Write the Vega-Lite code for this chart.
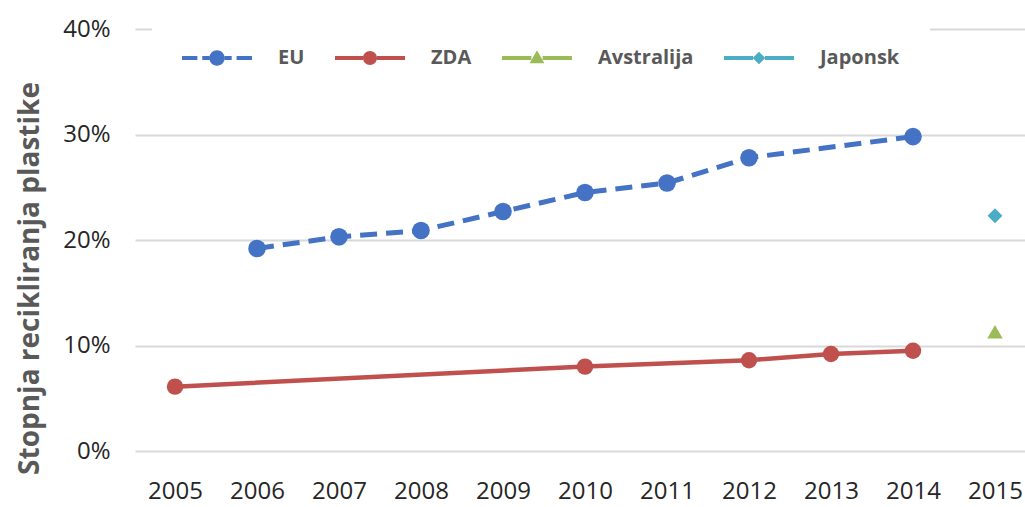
{
  "$schema": "https://vega.github.io/schema/vega-lite/v6.json",
  "width": 900,
  "height": 422,
  "autosize": {"type": "none"},
  "padding": {"left": 135, "top": 29, "right": 0, "bottom": 56},
  "background": "white",
  "config": {
    "font": "Open Sans",
    "view": {"stroke": null}
  },
  "data": {
    "values": [
      {"year": "2005", "series": "ZDA", "value": 6.1},
      {"year": "2006", "series": "EU", "value": 19.2},
      {"year": "2007", "series": "EU", "value": 20.3},
      {"year": "2008", "series": "EU", "value": 20.9},
      {"year": "2009", "series": "EU", "value": 22.7},
      {"year": "2010", "series": "EU", "value": 24.5},
      {"year": "2011", "series": "EU", "value": 25.4},
      {"year": "2012", "series": "EU", "value": 27.8},
      {"year": "2014", "series": "EU", "value": 29.8},
      {"year": "2010", "series": "ZDA", "value": 8.0},
      {"year": "2012", "series": "ZDA", "value": 8.6},
      {"year": "2013", "series": "ZDA", "value": 9.2},
      {"year": "2014", "series": "ZDA", "value": 9.5},
      {"year": "2015", "series": "Avstralija", "value": 11.3},
      {"year": "2015", "series": "Japonsk", "value": 22.3}
    ]
  },
  "encoding": {
    "x": {
      "field": "year",
      "type": "ordinal",
      "sort": ["2005","2006","2007","2008","2009","2010","2011","2012","2013","2014","2015"],
      "scale": {"domain": ["2005","2006","2007","2008","2009","2010","2011","2012","2013","2014","2015"], "type": "point", "padding": 0.488},
      "axis": {
        "title": null,
        "labelAngle": 0,
        "labelFontSize": 24,
        "labelColor": "#262626",
        "labelPadding": 28,
        "domain": false,
        "ticks": false,
        "grid": false
      }
    },
    "y": {
      "field": "value",
      "type": "quantitative",
      "scale": {"domain": [0, 40], "nice": false},
      "axis": {
        "title": "Stopnja recikliranja plastike",
        "titleFontSize": 28,
        "titleFontWeight": "bold",
        "titleColor": "#595959",
        "titleX": -105,
        "titleY": 249,
        "titleAngle": -90,
        "titleAlign": "center",
        "titleBaseline": "middle",
        "values": [0, 10, 20, 30, 40],
        "labelExpr": "datum.value + '%'",
        "labelFontSize": 24,
        "labelColor": "#262626",
        "labelPadding": 25,
        "domain": false,
        "ticks": false,
        "grid": true,
        "gridColor": "#d9d9d9",
        "gridWidth": 2
      }
    }
  },
  "layer": [
    {
      "transform": [{"filter": "datum.series === 'EU'"}],
      "mark": {"type": "line", "color": "#4472C4", "strokeWidth": 5, "strokeDash": [17, 9]}
    },
    {
      "transform": [{"filter": "datum.series === 'ZDA'"}],
      "mark": {"type": "line", "color": "#C0504D", "strokeWidth": 4.5}
    },
    {
      "transform": [{"filter": "datum.series === 'EU'"}],
      "mark": {"type": "point", "filled": true, "opacity": 1, "shape": "circle", "size": 310, "color": "#4472C4"}
    },
    {
      "transform": [{"filter": "datum.series === 'ZDA'"}],
      "mark": {"type": "point", "filled": true, "opacity": 1, "shape": "circle", "size": 270, "color": "#C0504D"}
    },
    {
      "transform": [{"filter": "datum.series === 'Avstralija'"}],
      "mark": {"type": "point", "filled": true, "opacity": 1, "shape": "triangle-up", "size": 240, "color": "#9BBB59"}
    },
    {
      "transform": [{"filter": "datum.series === 'Japonsk'"}],
      "mark": {"type": "point", "filled": true, "opacity": 1, "shape": "diamond", "size": 220, "color": "#4BACC6"}
    },
    {
      "mark": {"type": "point", "filled": true, "opacity": 0},
      "encoding": {
        "color": {
          "field": "series",
          "type": "nominal",
          "scale": {"domain": ["EU", "ZDA", "Avstralija", "Japonsk"], "range": ["#4472C4", "#C0504D", "#9BBB59", "#4BACC6"]},
          "legend": {
            "title": null,
            "orient": "none",
            "direction": "horizontal",
            "columns": 4,
            "legendX": 17,
            "legendY": -36,
            "padding": 30,
            "fillColor": "white",
            "symbolSize": 4900,
            "symbolOpacity": 1,
            "symbolStrokeWidth": 0,
            "labelFontSize": 20,
            "labelFontWeight": "bold",
            "labelColor": "#595959",
            "labelOffset": 26,
            "columnPadding": 30
          }
        },
        "shape": {
          "field": "series",
          "type": "nominal",
          "scale": {
            "domain": ["EU", "ZDA", "Avstralija", "Japonsk"],
            "range": [
              "M-1,-0.06H-0.56V0.06H-1Z M-0.42,-0.06H-0.22V0.06H-0.42Z M0.22,-0.06H0.42V0.06H0.22Z M0.56,-0.06H1V0.06H0.56Z M-0.22,0A0.22,0.22 0 1,1 0.22,0A0.22,0.22 0 1,1 -0.22,0Z",
              "M-1,-0.06H-0.2V0.06H-1Z M0.2,-0.06H1V0.06H0.2Z M-0.2,0A0.2,0.2 0 1,1 0.2,0A0.2,0.2 0 1,1 -0.2,0Z",
              "M-1,-0.06H-0.16V0.06H-1Z M0.16,-0.06H1V0.06H0.16Z M0,-0.22L0.21,0.15L-0.21,0.15Z",
              "M-1,-0.06H-0.17V0.06H-1Z M0.17,-0.06H1V0.06H0.17Z M0,-0.18L0.18,0L0,0.18L-0.18,0Z"
            ]
          },
          "legend": {
            "title": null,
            "orient": "none",
            "direction": "horizontal",
            "columns": 4,
            "legendX": 17,
            "legendY": -36,
            "padding": 30,
            "fillColor": "white",
            "symbolSize": 4900,
            "symbolOpacity": 1,
            "symbolStrokeWidth": 0,
            "labelFontSize": 20,
            "labelFontWeight": "bold",
            "labelColor": "#595959",
            "labelOffset": 26,
            "columnPadding": 30
          }
        }
      }
    }
  ]
}
